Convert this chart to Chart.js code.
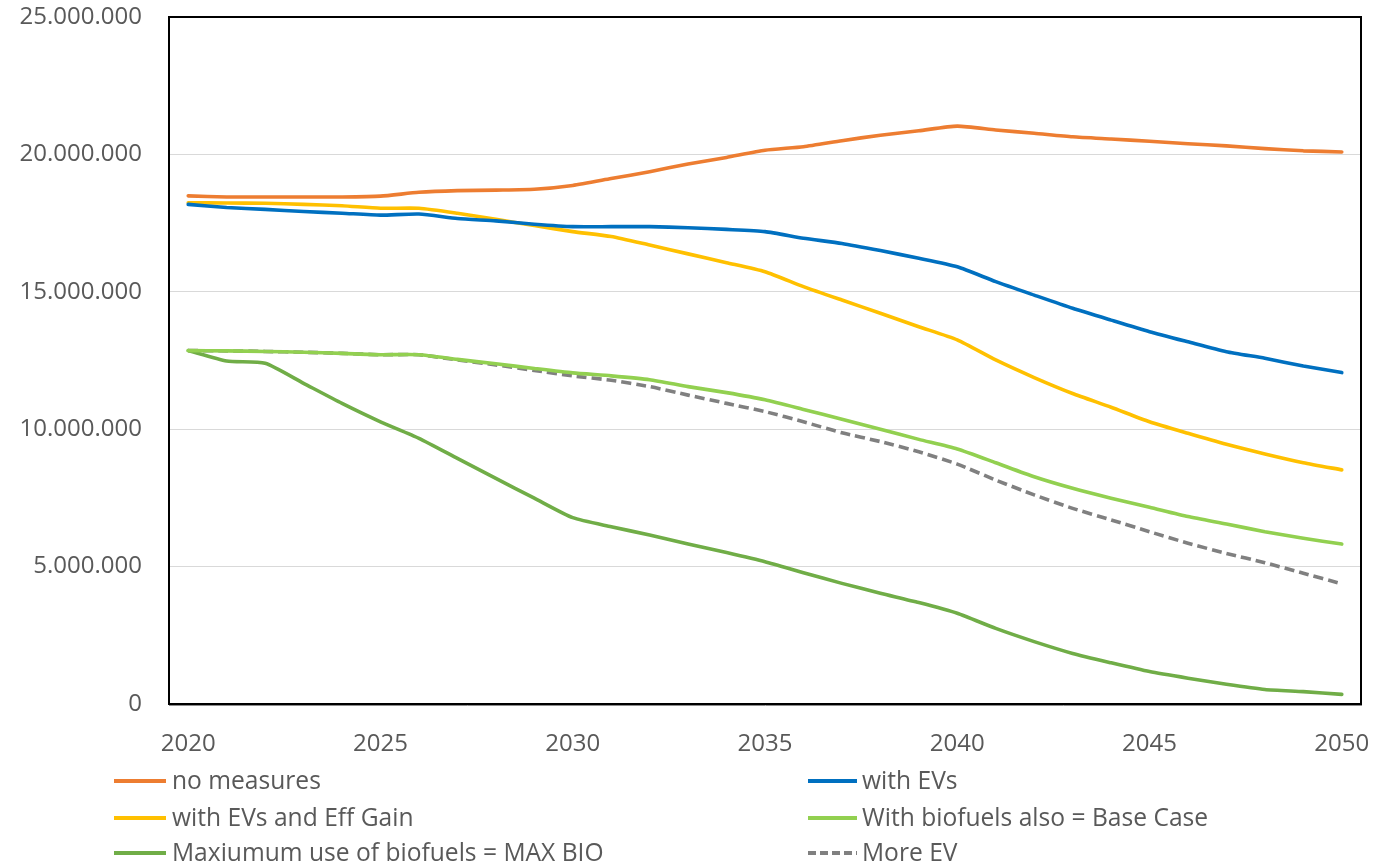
<!DOCTYPE html>
<html>
<head>
<meta charset="utf-8">
<script src="https://cdn.jsdelivr.net/npm/chart.js@4.4.1/dist/chart.umd.min.js"></script>
<style>
  html, body { margin: 0; padding: 0; background: #ffffff; }
  #wrap { width: 1373px; height: 865px; }
</style>
</head>
<body>
<div id="wrap"><canvas id="chart" width="1373" height="865"></canvas></div>
<script>
// Years on the horizontal axis
const years = ['2020','2021','2022','2023','2024','2025','2026','2027','2028','2029',
               '2030','2031','2032','2033','2034','2035','2036','2037','2038','2039',
               '2040','2041','2042','2043','2044','2045','2046','2047','2048','2049','2050'];
// Years that carry a visible tick label
const labelledYears = ['2020','2025','2030','2035','2040','2045','2050'];
// Value-axis ticks
const yTicks = [0, 5000000, 10000000, 15000000, 20000000, 25000000];

// Scenario series
const noMeasures = [18490000,18450000,18450000,18450000,18450000,18480000,18620000,18680000,18700000,18730000,
                    18870000,19120000,19370000,19650000,19890000,20150000,20280000,20500000,20700000,20860000,
                    21030000,20890000,20770000,20640000,20560000,20480000,20390000,20310000,20210000,20130000,20090000];
const withEVs = [18180000,18070000,18000000,17920000,17860000,17790000,17830000,17670000,17580000,17460000,
                 17370000,17370000,17370000,17330000,17270000,17190000,16950000,16760000,16500000,16220000,
                 15910000,15370000,14880000,14400000,13970000,13550000,13180000,12820000,12580000,12300000,12060000];
const withEVsEffGain = [18240000,18230000,18220000,18180000,18130000,18040000,18040000,17860000,17640000,17410000,
                        17190000,17010000,16700000,16380000,16060000,15730000,15190000,14700000,14220000,13730000,
                        13250000,12520000,11880000,11300000,10800000,10270000,9850000,9450000,9100000,8780000,8520000];
const baseCase = [12860000,12850000,12830000,12800000,12760000,12710000,12710000,12540000,12380000,12210000,
                  12050000,11940000,11800000,11550000,11330000,11070000,10720000,10360000,10000000,9630000,
                  9280000,8780000,8270000,7850000,7490000,7160000,6820000,6550000,6270000,6030000,5820000];
const maxBio = [12860000,12480000,12400000,11670000,10940000,10270000,9670000,8940000,8210000,7490000,
                6780000,6450000,6150000,5820000,5510000,5180000,4780000,4390000,4030000,3690000,
                3300000,2750000,2270000,1840000,1500000,1180000,940000,720000,530000,450000,350000];
const moreEV = [12860000,12850000,12830000,12800000,12760000,12710000,12710000,12520000,12340000,12140000,
                11940000,11780000,11550000,11240000,10940000,10640000,10270000,9870000,9550000,9180000,
                8730000,8150000,7610000,7120000,6700000,6270000,5850000,5480000,5140000,4760000,4370000];

const seriesNames = ['no measures', 'with EVs', 'with EVs and Eff Gain',
                     'With biofuels also = Base Case', 'Maxiumum use of biofuels = MAX BIO', 'More EV'];

const FONT = '"Open Sans", "Noto Sans", sans-serif';
const TEXT = '#595959';

function dotted(v) {
  return String(Math.round(v)).replace(/\B(?=(\d{3})+(?!\d))/g, '.');
}

function line(label, data, color, dash) {
  return {
    label, data,
    borderColor: color, backgroundColor: color,
    borderWidth: 3.6, borderDash: dash || [],
    borderCapStyle: dash ? 'butt' : 'round', borderJoinStyle: 'round',
    pointRadius: 0, pointHoverRadius: 0, fill: false, tension: 0.2
  };
}

// Frame around the plotting area
const frame = {
  id: 'frame',
  beforeDatasetsDraw(chart) {
    const { ctx, chartArea: a } = chart;
    ctx.save();
    ctx.strokeStyle = '#000000';
    ctx.lineWidth = 2;
    ctx.strokeRect(a.left, a.top, a.right - a.left, a.bottom - a.top);
    ctx.strokeStyle = '#8c8c8c';
    ctx.lineWidth = 1;
    ctx.beginPath();
    ctx.moveTo(a.left, a.bottom + 1.5);
    ctx.lineTo(a.right + 1, a.bottom + 1.5);
    ctx.stroke();
    ctx.restore();
  }
};

// Two-column legend under the axis
const gridLegend = {
  id: 'gridLegend',
  afterDraw(chart) {
    const { ctx } = chart;
    const cols = [{ x0: 114, x1: 166, tx: 172 }, { x0: 808, x1: 857, tx: 862 }];
    const rows = [781, 818, 853];
    ctx.save();
    ctx.font = '24.6px ' + FONT;
    ctx.textBaseline = 'middle';
    ctx.textAlign = 'left';
    chart.data.datasets.forEach((ds, i) => {
      const c = cols[i % 2];
      const y = rows[Math.floor(i / 2)];
      ctx.strokeStyle = ds.borderColor;
      ctx.lineWidth = 4;
      ctx.setLineDash(ds.borderDash && ds.borderDash.length ? [8, 4] : []);
      ctx.lineCap = 'butt';
      ctx.beginPath();
      ctx.moveTo(c.x0, y);
      ctx.lineTo(c.x1, y);
      ctx.stroke();
      ctx.setLineDash([]);
      ctx.fillStyle = TEXT;
      ctx.fillText(ds.label, c.tx, y + 1);
    });
    ctx.restore();
  }
};

new Chart(document.getElementById('chart'), {
  type: 'line',
  data: {
    labels: years,
    datasets: [
      line(seriesNames[0], noMeasures, '#ED7D31'),
      line(seriesNames[1], withEVs, '#0070C0'),
      line(seriesNames[2], withEVsEffGain, '#FFC000'),
      line(seriesNames[3], baseCase, '#92D050'),
      line(seriesNames[4], maxBio, '#70AD47'),
      line(seriesNames[5], moreEV, '#808080', [10, 5])
    ]
  },
  options: {
    responsive: false,
    animation: false,
    layout: { padding: { top: 17, right: 12, left: 0, bottom: 0 } },
    plugins: { legend: { display: false }, tooltip: { enabled: false } },
    scales: {
      x: {
        type: 'category',
        offset: true,
        grid: { display: false, drawTicks: false },
        border: { display: false },
        ticks: {
          autoSkip: false, maxRotation: 0, minRotation: 0, padding: 26,
          color: TEXT, font: { family: FONT, size: 24 },
          callback(v, i) { return labelledYears.includes(years[i]) ? years[i] : ''; }
        },
        afterFit(s) {
          s.height = 161;
          s.paddingLeft = 0; s.paddingRight = 0; s.paddingTop = 0; s.paddingBottom = 0;
        }
      },
      y: {
        min: yTicks[0], max: yTicks[yTicks.length - 1],
        afterBuildTicks(s) { s.ticks = yTicks.map(v => ({ value: v })); },
        grid: { color: '#D9D9D9', lineWidth: 1, drawTicks: false },
        border: { display: false },
        ticks: {
          padding: 27, color: TEXT, font: { family: FONT, size: 24 },
          callback(v) { return dotted(v); }
        },
        afterFit(s) {
          s.width = 169;
          s.paddingLeft = 0; s.paddingRight = 0; s.paddingTop = 0; s.paddingBottom = 0;
        }
      }
    }
  },
  plugins: [frame, gridLegend]
});
</script>
</body>
</html>
